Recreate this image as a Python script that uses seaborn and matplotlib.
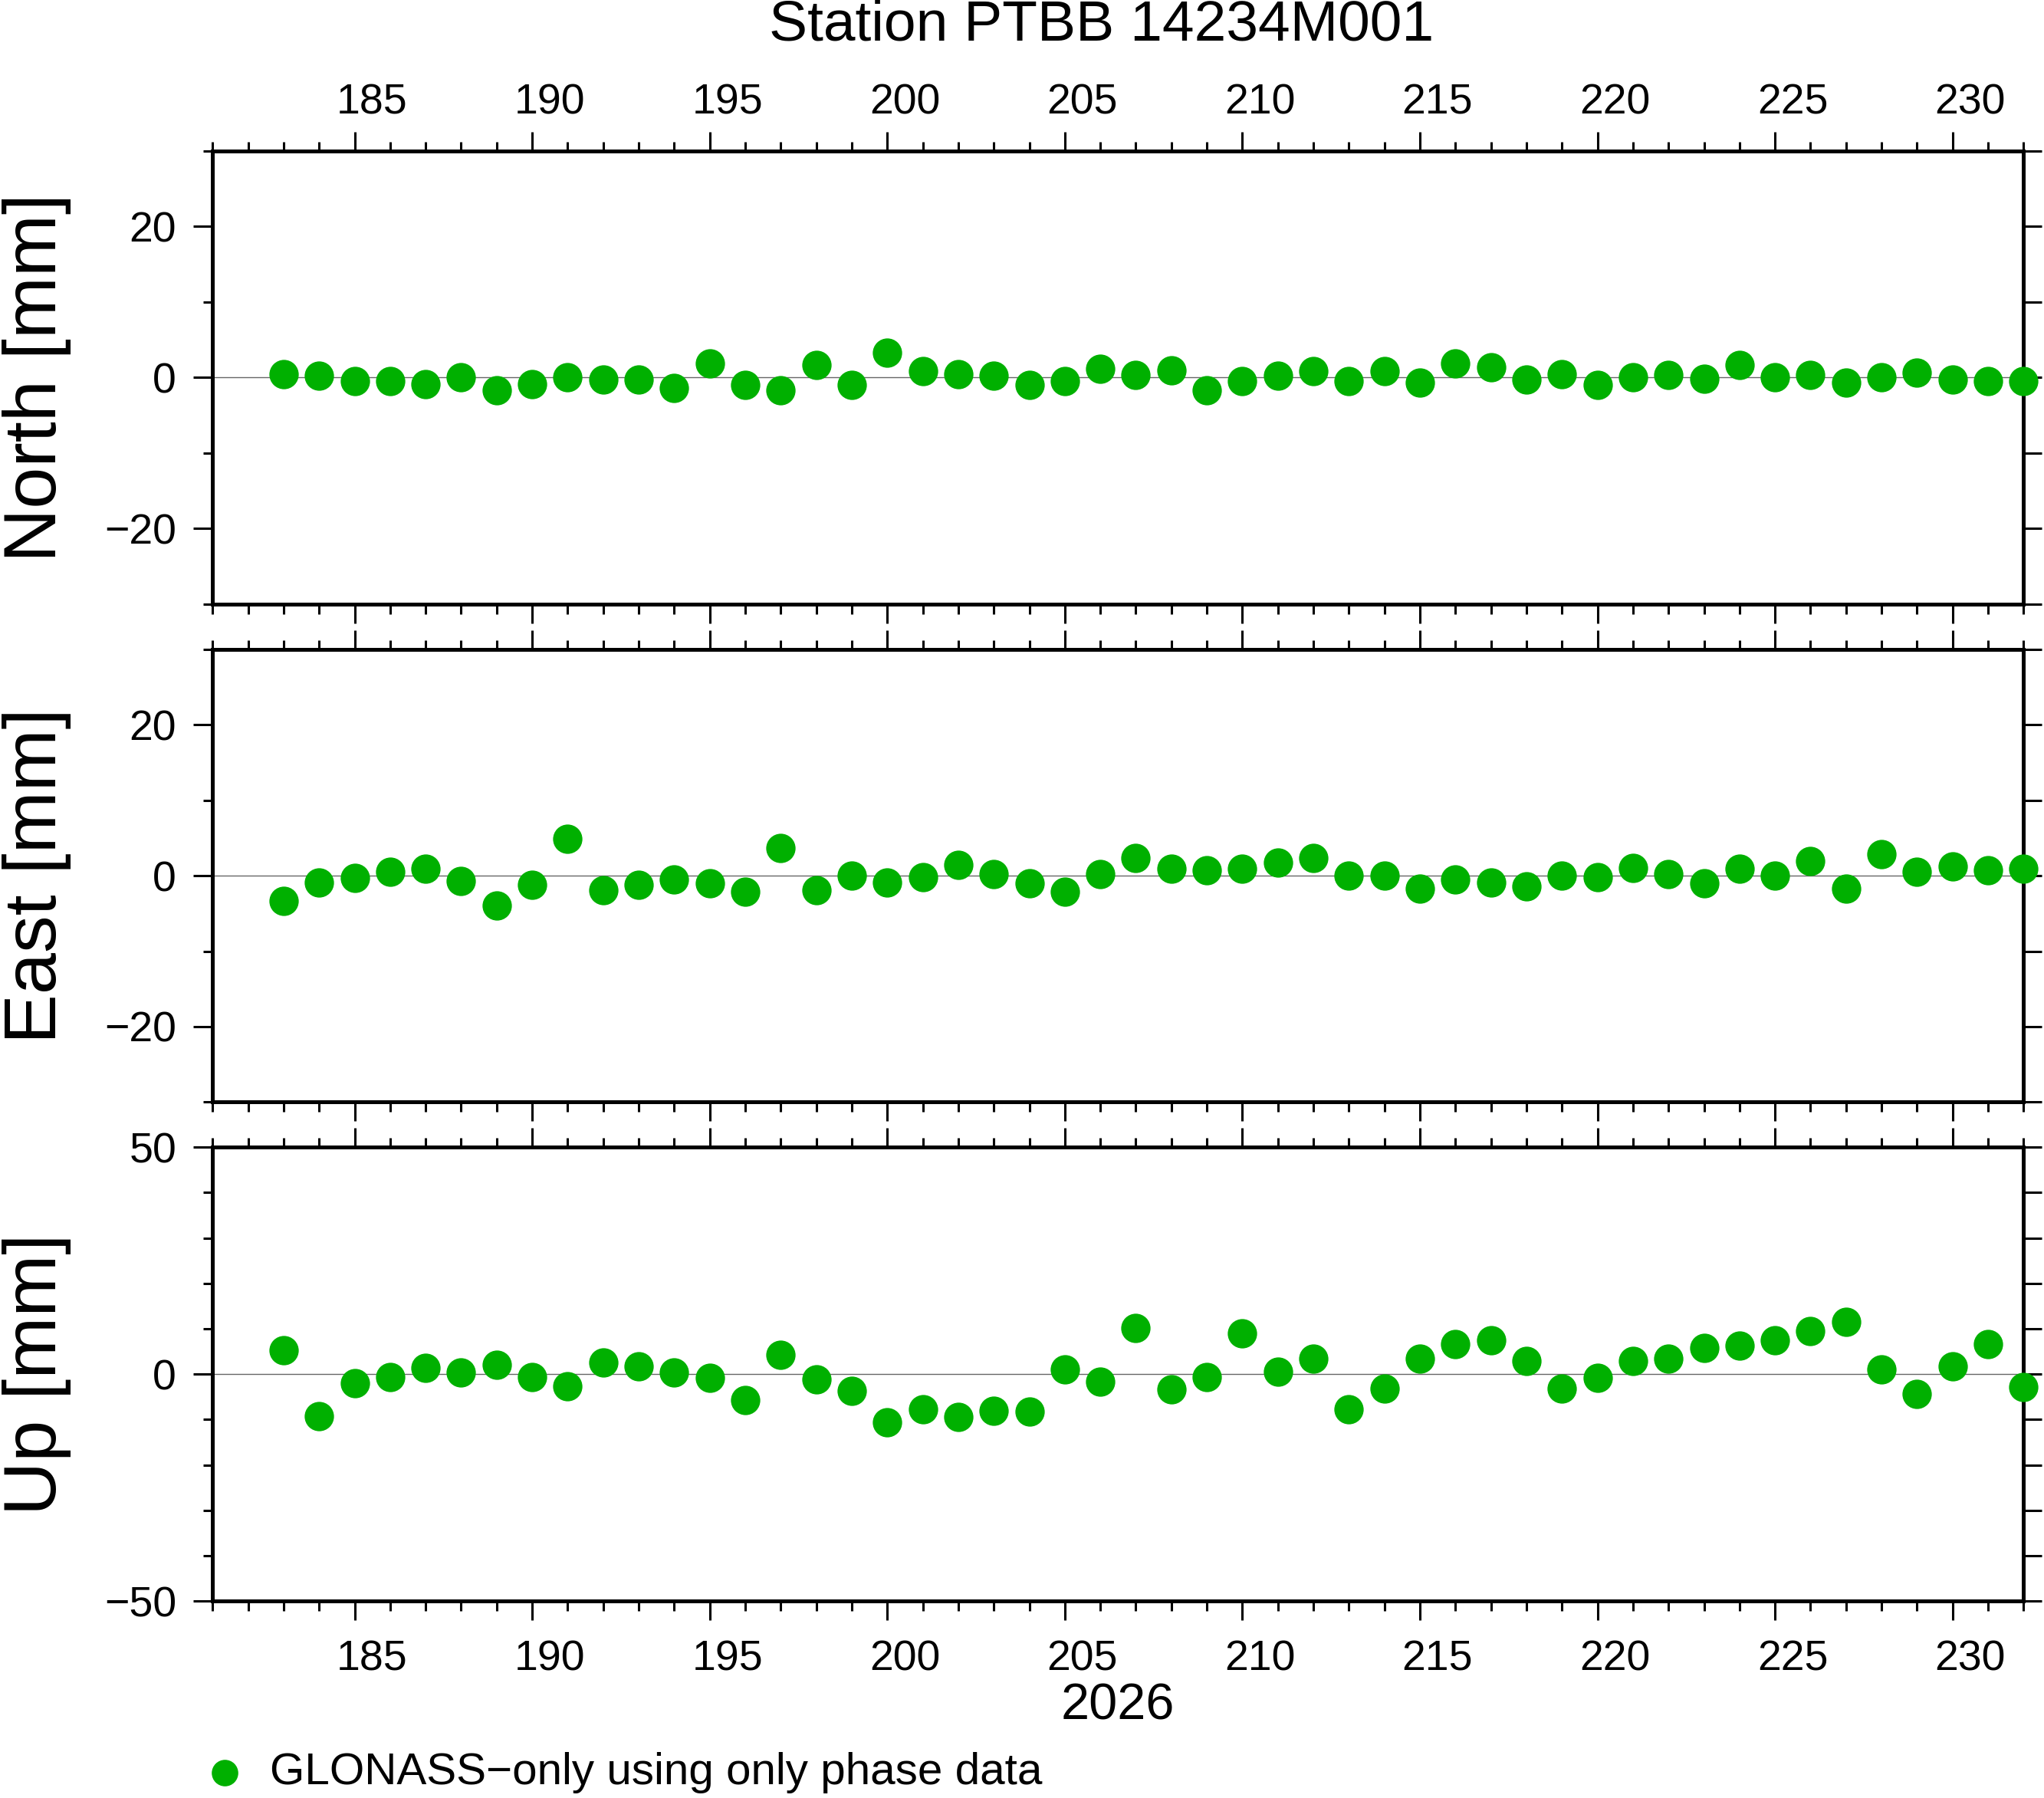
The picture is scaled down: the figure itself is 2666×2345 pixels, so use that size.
import numpy as np
import pandas as pd
import matplotlib
matplotlib.use("Agg")
import matplotlib.pyplot as plt
import seaborn as sns
from matplotlib.ticker import MultipleLocator
from matplotlib.transforms import ScaledTranslation

# Daily residuals, day of year 183..232 (2026)
days = list(range(183, 233))

north = [0.5, 0.2, -0.5, -0.5, -0.9, 0.0, -1.7, -0.9, 0.0, -0.3,
         -0.3, -1.4, 1.9, -1.0, -1.7, 1.7, -1.0, 3.3, 0.9, 0.5,
         0.2, -1.0, -0.5, 1.2, 0.3, 1.0, -1.7, -0.5, 0.2, 0.9,
         -0.5, 0.9, -0.7, 1.9, 1.4, -0.3, 0.5, -1.0, 0.0, 0.3,
         -0.2, 1.7, 0.0, 0.3, -0.7, 0.0, 0.7, -0.3, -0.5, -0.5]

east = [-3.3, -0.9, -0.3, 0.5, 0.9, -0.7, -4.0, -1.2, 4.9, -1.9,
        -1.2, -0.5, -1.0, -2.1, 3.7, -1.9, 0.0, -0.9, -0.2, 1.4,
        0.2, -1.0, -2.1, 0.2, 2.3, 0.9, 0.7, 0.9, 1.7, 2.3,
        0.0, 0.0, -1.7, -0.5, -0.9, -1.4, 0.0, -0.2, 1.0, 0.2,
        -1.0, 0.9, 0.0, 1.9, -1.7, 2.8, 0.5, 1.2, 0.7, 0.9]

up = [5.2, -9.2, -2.0, -0.6, 1.4, 0.3, 2.0, -0.6, -2.6, 2.6,
      1.7, 0.3, -0.9, -5.7, 4.3, -1.1, -3.7, -10.6, -7.8, -9.5,
      -8.0, -8.3, 1.1, -1.7, 10.1, -3.4, -0.6, 8.9, 0.6, 3.4,
      -7.8, -3.2, 3.4, 6.6, 7.5, 2.9, -3.2, -0.9, 2.9, 3.4,
      5.7, 6.3, 7.5, 9.5, 11.5, 1.1, -4.3, 1.7, 6.6, -2.9]

components = ["North", "East", "Up"]
ylims = {"North": (-30, 30), "East": (-30, 30), "Up": (-50, 50)}
ymajor = {"North": 20, "East": 20, "Up": 50}

title = "Station PTBB 14234M001"
year_label = "2026"
legend_label = "GLONASS\u2212only using only phase data"
green = "#00b000"

df = pd.DataFrame({"day": days * 3,
                   "value": north + east + up,
                   "component": np.repeat(components, len(days))})

sns.set_style("ticks")
plt.rcParams["font.family"] = ["Liberation Sans", "DejaVu Sans"]
plt.rcParams["axes.linewidth"] = 3.6
plt.rcParams["text.color"] = "black"
plt.rcParams["axes.labelcolor"] = "black"
plt.rcParams["axes.edgecolor"] = "black"
plt.rcParams["xtick.color"] = "black"
plt.rcParams["ytick.color"] = "black"

fig = plt.figure(figsize=(26.66, 23.45), dpi=100)

positions = [[0.104, 0.664, 0.886, 0.252],
             [0.104, 0.387, 0.886, 0.252],
             [0.104, 0.1095, 0.886, 0.2525]]

# GMT places the day labels a little right of the tick
shift = ScaledTranslation(0.23, 0, fig.dpi_scale_trans)

for i, comp in enumerate(components):
    ax = fig.add_axes(positions[i])
    sub = df[df["component"] == comp]
    ax.axhline(0, color="0.4", lw=1.0, zorder=1)
    sns.scatterplot(data=sub, x="day", y="value", ax=ax, color=green,
                    s=760, linewidth=0, zorder=3, clip_on=False,
                    legend=False)
    ax.set_xlim(181, 232)
    ax.set_ylim(*ylims[comp])
    ax.xaxis.set_major_locator(MultipleLocator(5))
    ax.xaxis.set_minor_locator(MultipleLocator(1))
    ax.yaxis.set_major_locator(MultipleLocator(ymajor[comp]))
    ax.yaxis.set_minor_locator(MultipleLocator(10))
    ax.tick_params(which="major", direction="out", length=18, width=2.2,
                   labelsize=40, pad=16, top=True, bottom=True,
                   left=True, right=False)
    ax.tick_params(which="minor", direction="out", length=9, width=2.2,
                   top=True, bottom=True, left=True, right=False)
    ax.tick_params(axis="x", labelbottom=(i == 2), labeltop=(i == 0))
    ax.tick_params(axis="x", which="major", pad=8 if i == 0 else 18)
    ax.set_xlabel("")
    ax.set_ylabel(f"{comp} [mm]", fontsize=70)
    ax.yaxis.set_label_coords(-0.078, 0.5)
    for sp in ax.spines.values():
        sp.set_visible(True)
        sp.set_linewidth(3.6)
        sp.set_color("black")

    # right-hand ticks every 10 mm, no labels
    sec = ax.secondary_yaxis("right")
    sec.set_yticks(np.arange(ylims[comp][0], ylims[comp][1] + 1, 10))
    sec.tick_params(direction="out", length=17, width=2.2, labelright=False)
    sec.spines["right"].set_linewidth(3.6)

    for t in ax.xaxis.get_major_ticks():
        t.label1.set_transform(t.label1.get_transform() + shift)
        t.label2.set_transform(t.label2.get_transform() + shift)

fig.text(0.539, 0.986, title, ha="center", va="center", fontsize=54)
fig.text(0.547, 0.051, year_label, ha="center", va="center", fontsize=48)

# legend row at bottom
leg_ax = fig.add_axes([0, 0, 1, 0.03])
leg_ax.set_axis_off()
leg_ax.set_xlim(0, 1)
leg_ax.set_ylim(0, 1)
sns.scatterplot(x=[0.110], y=[0.47], ax=leg_ax, color=green, s=620,
                linewidth=0, legend=False)
leg_ax.text(0.132, 0.47, legend_label, ha="left", va="center", fontsize=42)

fig.savefig("out.png", dpi=100)
